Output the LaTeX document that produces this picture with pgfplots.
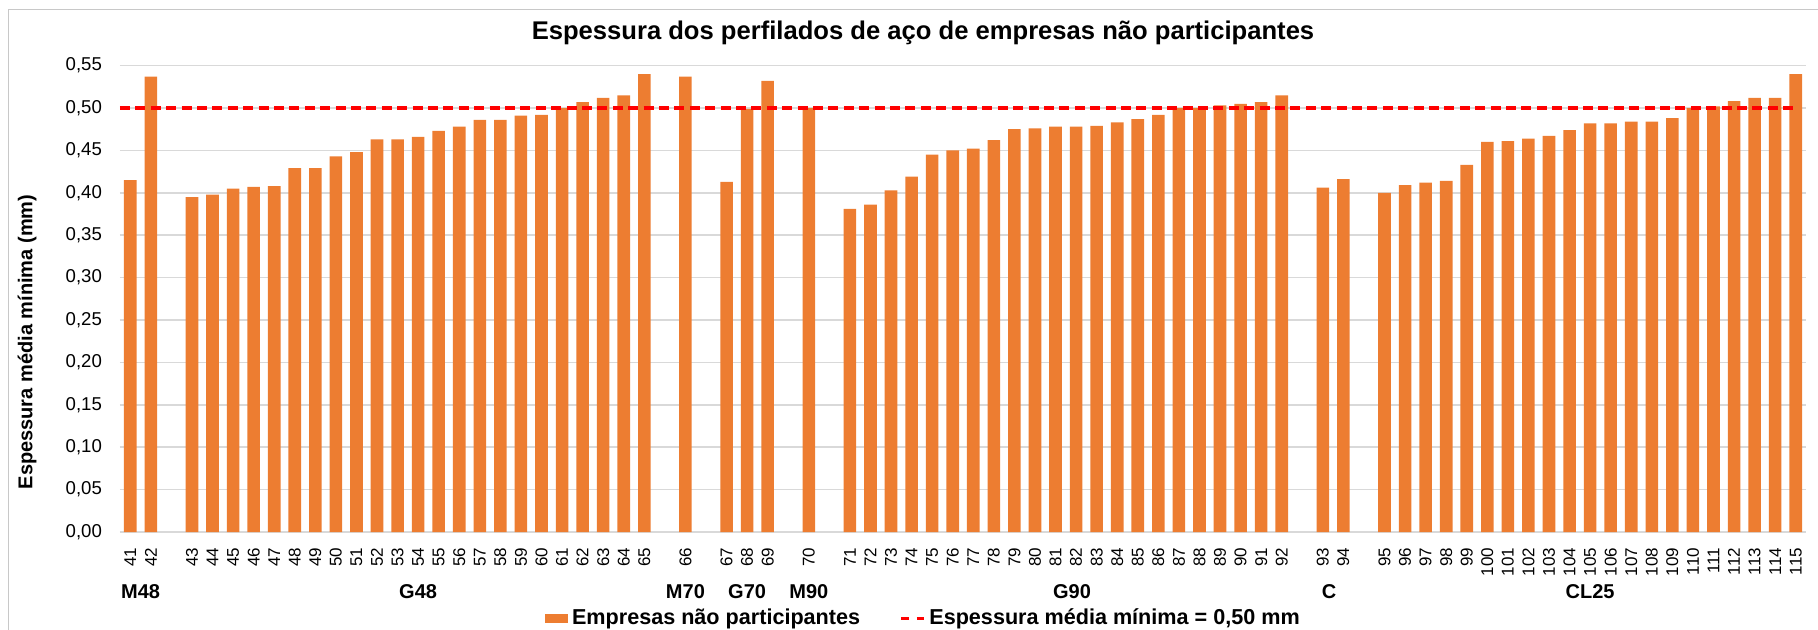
\documentclass[border=0pt]{standalone}
\usepackage{fontspec}
\setmainfont{Liberation Sans}
\usepackage{pgfplots}
\pgfplotsset{compat=1.18}
\definecolor{barorange}{RGB}{237,125,49}
\definecolor{gridgray}{RGB}{217,217,217}
\definecolor{framegray}{RGB}{200,200,200}
\definecolor{limitred}{RGB}{255,0,0}
\tikzset{
  grp/.style={anchor=base,yshift=-33pt,font=\fontsize{10}{12}\selectfont\bfseries},
  limitline/.style={limitred,line width=1.65pt,dash pattern=on 5pt off 2.7pt},
}

\begin{document}
\begin{tikzpicture}
\useasboundingbox (-60pt,-48.5pt) rectangle (849pt,266pt);
\draw[framegray,line width=0.8pt] (-55.8pt,-70pt) -- (-55.8pt,261.3pt) -- (870pt,261.3pt);
\begin{axis}[
  scale only axis, width=843pt, height=233.2pt,
  xmin=-0.5, xmax=81.5, ymin=0, ymax=0.55,
  clip=false,
  axis line style={draw=none},
  major tick length=0pt,
  ymajorgrids, major grid style={gridgray,line width=0.8pt},
  ytick={0,0.05,0.10,0.15,0.20,0.25,0.30,0.35,0.40,0.45,0.50,0.55},
  /pgf/number format/assume math mode=true,
  yticklabel style={/pgf/number format/.cd,fixed,fixed zerofill,precision=2,use comma,/tikz/.cd,
    font=\fontsize{9.3}{11}\selectfont,xshift=-5.5pt},
  xtick=data,
  xticklabels={41,42,43,44,45,46,47,48,49,50,51,52,53,54,55,56,57,58,59,60,61,62,63,64,65,66,67,68,69,70,
    71,72,73,74,75,76,77,78,79,80,81,82,83,84,85,86,87,88,89,90,91,92,93,94,
    95,96,97,98,99,100,101,102,103,104,105,106,107,108,109,110,111,112,113,114,115},
  xticklabel style={yshift=-4.5pt,rotate=90,anchor=east,font=\fontsize{8.5}{10}\selectfont},
  legend style={at={(0.2521,-0.1844)},anchor=west,draw=none,fill=none,inner sep=0pt,
    legend columns=2,font=\fontsize{10.8}{13}\selectfont\bfseries,
    nodes={inner xsep=1.8pt,inner ysep=1pt},
    /tikz/every even column/.append style={column sep=18pt}},
  legend cell align=left,
]
\addplot[ybar,bar width=6.3pt,fill=barorange,draw=none,
  legend image code/.code={\fill[barorange] (0pt,-2.25pt) rectangle (11.5pt,2.25pt);}]
coordinates {
  (0,0.415) (1,0.537)
  (3,0.395) (4,0.398) (5,0.405) (6,0.407) (7,0.408) (8,0.429) (9,0.429) (10,0.443)
  (11,0.448) (12,0.463) (13,0.463) (14,0.466) (15,0.473) (16,0.478) (17,0.486) (18,0.486)
  (19,0.491) (20,0.492) (21,0.500) (22,0.507) (23,0.512) (24,0.515) (25,0.540)
  (27,0.537)
  (29,0.413) (30,0.499) (31,0.532)
  (33,0.500)
  (35,0.381) (36,0.386) (37,0.403) (38,0.419) (39,0.445) (40,0.450) (41,0.452) (42,0.462)
  (43,0.475) (44,0.476) (45,0.478) (46,0.478) (47,0.479) (48,0.483) (49,0.487) (50,0.492)
  (51,0.500) (52,0.500) (53,0.503) (54,0.505) (55,0.507) (56,0.515)
  (58,0.406) (59,0.416)
  (61,0.400) (62,0.409) (63,0.412) (64,0.414) (65,0.433) (66,0.460) (67,0.461) (68,0.464)
  (69,0.467) (70,0.474) (71,0.482) (72,0.482) (73,0.484) (74,0.484) (75,0.488) (76,0.500)
  (77,0.502) (78,0.508) (79,0.512) (80,0.512) (81,0.540)
};
\addlegendentry{Empresas não participantes}
\addplot[limitline,
  legend image code/.code={\draw[limitred,line width=1.5pt] (0pt,0pt) -- (3.75pt,0pt) (7.75pt,0pt) -- (11.5pt,0pt);}]
coordinates {(-0.5,0.5) (81,0.5)};
\addlegendentry{Espessura média mínima = 0,50 mm}
\node[grp] at (axis cs:0.5,0) {M48};
\node[grp] at (axis cs:14,0) {G48};
\node[grp] at (axis cs:27,0) {M70};
\node[grp] at (axis cs:30,0) {G70};
\node[grp] at (axis cs:33,0) {M90};
\node[grp] at (axis cs:45.8,0) {G90};
\node[grp] at (axis cs:58.3,0) {C};
\node[grp] at (axis cs:71,0) {CL25};
\end{axis}
\node[anchor=base,font=\fontsize{12.8}{15}\selectfont\bfseries] at (401.5pt,246.4pt)
  {Espessura dos perfilados de aço de empresas não participantes};
\node[rotate=90,font=\fontsize{10}{12}\selectfont\bfseries] at (-46.5pt,95pt)
  {Espessura média mínima (mm)};
\end{tikzpicture}
\end{document}
